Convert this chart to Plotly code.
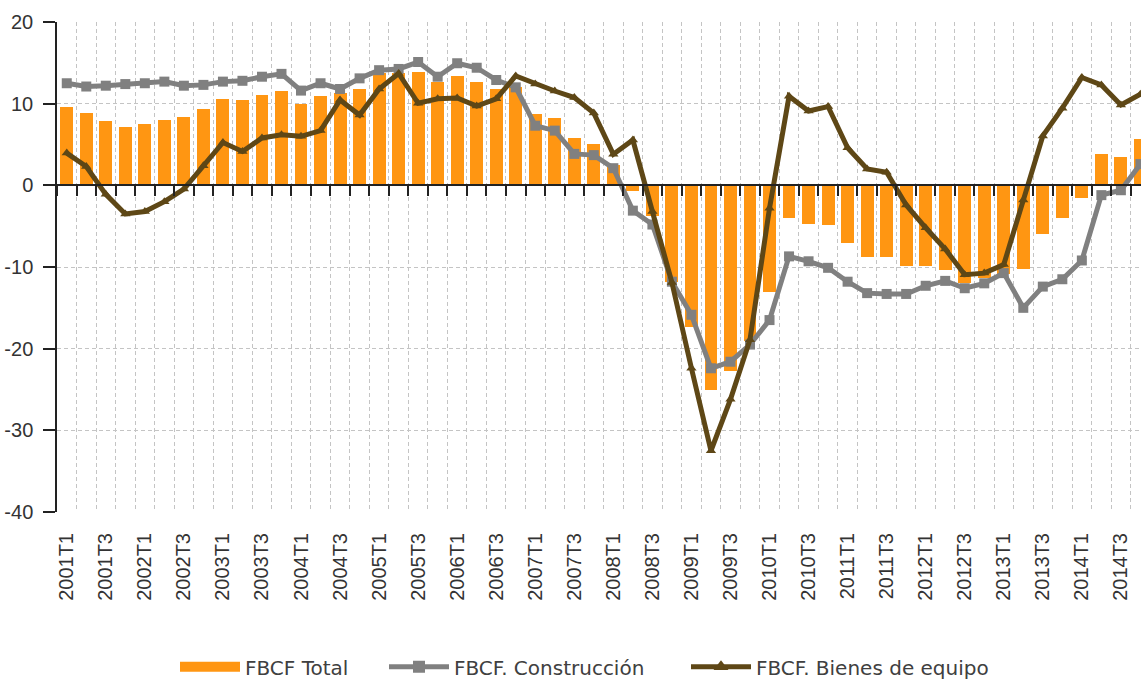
import plotly.graph_objects as go

quarters = [
    "2001T1", "2001T2", "2001T3", "2001T4", "2002T1", "2002T2", "2002T3", "2002T4",
    "2003T1", "2003T2", "2003T3", "2003T4", "2004T1", "2004T2", "2004T3", "2004T4",
    "2005T1", "2005T2", "2005T3", "2005T4", "2006T1", "2006T2", "2006T3", "2006T4",
    "2007T1", "2007T2", "2007T3", "2007T4", "2008T1", "2008T2", "2008T3", "2008T4",
    "2009T1", "2009T2", "2009T3", "2009T4", "2010T1", "2010T2", "2010T3", "2010T4",
    "2011T1", "2011T2", "2011T3", "2011T4", "2012T1", "2012T2", "2012T3", "2012T4",
    "2013T1", "2013T2", "2013T3", "2013T4", "2014T1", "2014T2", "2014T3", "2014T4",
]

fbcf_total = [
    9.65, 8.9, 7.9, 7.2, 7.55, 8.05, 8.4, 9.4, 10.6, 10.4, 11.1, 11.5, 9.9, 10.9, 11.35, 11.85,
    13.8, 13.8, 13.9, 12.7, 13.4, 12.7, 11.85, 12.0, 8.75, 8.2, 5.85, 5.1, 2.5, -0.75, -3.8, -11.8,
    -17.4, -25.1, -22.7, -19.0, -13.0, -3.95, -4.7, -4.9, -7.1, -8.8, -8.8, -9.9, -9.9, -10.4, -11.9, -11.4,
    -10.8, -10.3, -6.0, -4.05, -1.6, 3.85, 3.5, 5.7,
]

fbcf_construccion = [
    12.5, 12.1, 12.2, 12.4, 12.5, 12.7, 12.2, 12.3, 12.7, 12.8, 13.3, 13.65, 11.6, 12.5, 11.8, 13.1,
    14.1, 14.25, 15.1, 13.3, 14.95, 14.4, 12.9, 12.0, 7.3, 6.7, 3.85, 3.7, 2.1, -3.1, -4.8, -11.8,
    -15.85, -22.4, -21.6, -19.5, -16.5, -8.7, -9.3, -10.1, -11.8, -13.2, -13.3, -13.3, -12.3, -11.7, -12.6, -12.0,
    -10.75, -15.0, -12.4, -11.5, -9.2, -1.2, -0.6, 2.6,
]

fbcf_equipo = [
    3.95, 2.3, -1.1, -3.5, -3.2, -2.0, -0.45, 2.4, 5.25, 4.15, 5.8, 6.2, 6.0, 6.7, 10.45, 8.6,
    11.8, 13.7, 10.05, 10.6, 10.7, 9.7, 10.6, 13.4, 12.4, 11.55, 10.75, 8.85, 3.8, 5.55, -3.2, -11.9,
    -22.4, -32.5, -26.2, -18.9, -2.8, 10.9, 9.1, 9.65, 4.6, 2.0, 1.6, -2.4, -5.2, -7.8, -10.95, -10.75,
    -9.7, -1.8, 6.05, 9.45, 13.2, 12.3, 9.85, 11.15,
]

y_ticks = [-40, -30, -20, -10, 0, 10, 20]

x_pos = list(range(len(quarters)))
label_pos = x_pos[::2]
label_text = quarters[::2]

ORANGE = "#FF9612"
GRAY = "#808080"
BROWN = "#5E4716"
GRID = "#C4C4C4"
LEGEND_FONT = dict(family="DejaVu Sans", size=20, color="#404040")

fig = go.Figure()

# data traces
fig.add_trace(go.Bar(
    x=x_pos, y=fbcf_total, name="FBCF Total",
    marker=dict(color=ORANGE, line=dict(width=0)),
    width=0.66, showlegend=False,
))
fig.add_trace(go.Scatter(
    x=x_pos, y=fbcf_construccion, name="FBCF. Construcción",
    mode="lines+markers",
    line=dict(color=GRAY, width=5),
    marker=dict(symbol="square", size=10, color=GRAY),
    showlegend=False,
))
fig.add_trace(go.Scatter(
    x=x_pos, y=fbcf_equipo, name="FBCF. Bienes de equipo",
    mode="lines+markers",
    line=dict(color=BROWN, width=5),
    marker=dict(symbol="triangle-up", size=9, color=BROWN),
    showlegend=False,
))

# legend-only entries
fig.add_trace(go.Scatter(
    x=[None], y=[None], name="FBCF Total", mode="lines",
    line=dict(color=ORANGE, width=12), legend="legend", hoverinfo="skip",
))
fig.add_trace(go.Scatter(
    x=[None], y=[None], name="FBCF. Construcción", mode="lines+markers",
    line=dict(color=GRAY, width=5),
    marker=dict(symbol="square", size=12, color=GRAY),
    legend="legend2", hoverinfo="skip",
))
fig.add_trace(go.Scatter(
    x=[None], y=[None], name="FBCF. Bienes de equipo", mode="lines+markers",
    line=dict(color=BROWN, width=5),
    marker=dict(symbol="triangle-up", size=13, color=BROWN),
    legend="legend3", hoverinfo="skip",
))

# invisible helper trace so the zero-line axis (x2) is rendered
fig.add_trace(go.Scatter(
    x=x_pos, y=fbcf_total, xaxis="x2", mode="lines",
    line=dict(width=0, color="rgba(0,0,0,0)"), opacity=0,
    showlegend=False, hoverinfo="skip",
))

xrange = [-0.5, 55.03]
PLOT_L, PLOT_W = 57, 1084


def lx(px):
    return (px - PLOT_L) / PLOT_W


legend_common = dict(
    orientation="h", xanchor="left", y=-0.276, yanchor="top",
    font=LEGEND_FONT, itemwidth=60, bgcolor="rgba(0,0,0,0)",
)

fig.update_layout(
    width=1141, height=679,
    margin=dict(l=57, r=0, t=22, b=167, autoexpand=False),
    paper_bgcolor="white", plot_bgcolor="white",
    bargap=0,
    showlegend=True,
    legend=dict(x=lx(175), **legend_common),
    legend2=dict(x=lx(384), **legend_common),
    legend3=dict(x=lx(686), **legend_common),
    xaxis=dict(
        range=xrange, automargin=False,
        tickmode="array", tickvals=label_pos, ticktext=label_text,
        tickangle=-90,
        ticks="outside", ticklen=12, tickcolor="rgba(0,0,0,0)",
        tickfont=dict(family="Liberation Sans", size=20, color="#333333"),
        showgrid=False, zeroline=False, showline=False,
        minor=dict(tick0=-0.5, dtick=1, showgrid=True, gridcolor=GRID,
                   griddash="4px,3px", gridwidth=1, ticks=""),
    ),
    xaxis2=dict(
        range=xrange, overlaying="x", anchor="free", position=40 / 60,
        side="bottom", automargin=False,
        tickmode="linear", tick0=-0.5, dtick=1,
        ticks="outside", ticklen=10, tickwidth=1.5, tickcolor="#222222",
        showticklabels=False, showgrid=False, zeroline=False,
        showline=True, linecolor="#222222", linewidth=1.5,
    ),
    yaxis=dict(
        range=[-40, 20], automargin=False,
        tickmode="array", tickvals=y_ticks, ticktext=[str(v) for v in y_ticks],
        ticks="outside", ticklen=12, tickcolor="#222222", tickwidth=1.5,
        ticklabelstandoff=6,
        tickfont=dict(family="Liberation Sans", size=20, color="#333333"),
        showgrid=True, gridcolor=GRID, griddash="4px,3px", gridwidth=1,
        zeroline=False, showline=True, linecolor="#222222", linewidth=1.5,
    ),
)

fig.write_html(
    "out.html",
    config={"displayModeBar": False},
    post_script="document.body.style.margin='0';document.body.style.overflow='hidden';",
)
